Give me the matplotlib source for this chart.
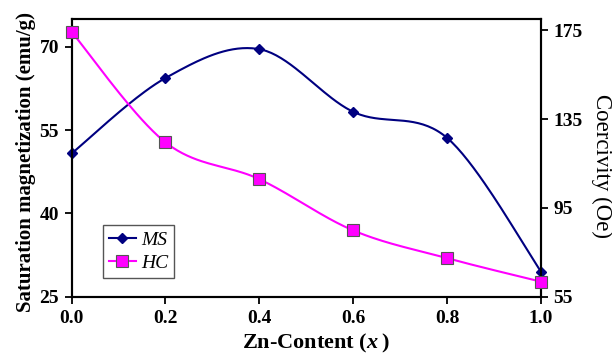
import numpy as np
import matplotlib
matplotlib.use("Agg")
import matplotlib.pyplot as plt
from matplotlib.lines import Line2D

x = [0.0, 0.2, 0.4, 0.6, 0.8, 1.0]
ms = [50.8, 64.4, 69.6, 58.3, 53.6, 29.5]
hc = [174.3, 124.5, 107.9, 84.8, 72.3, 61.7]
xticks = [0.0, 0.2, 0.4, 0.6, 0.8, 1.0]
left_ticks = [25, 40, 55, 70]
right_ticks = [55, 95, 135, 175]


def smooth(xs, ys, n=40):
    p = np.column_stack([xs, ys]).astype(float)
    pts = []
    for i in range(len(p) - 1):
        p0 = p[i - 1] if i > 0 else p[i]
        p1 = p[i]
        p2 = p[i + 1]
        p3 = p[i + 2] if i + 2 < len(p) else p[i + 1]
        c1 = p1 + (p2 - p0) / 6.0
        c2 = p2 - (p3 - p1) / 6.0
        t = np.linspace(0, 1, n)[:, None]
        seg = ((1 - t) ** 3) * p1 + 3 * ((1 - t) ** 2) * t * c1 + 3 * (1 - t) * t ** 2 * c2 + t ** 3 * p2
        pts.append(seg if i == 0 else seg[1:])
    a = np.vstack(pts)
    return a[:, 0], a[:, 1]


plt.rcParams['font.family'] = ['Liberation Serif', 'DejaVu Serif']
plt.rcParams['mathtext.fontset'] = 'custom'
plt.rcParams['mathtext.it'] = 'Liberation Serif:italic:bold'
plt.rcParams['mathtext.rm'] = 'Liberation Serif:bold'

fig = plt.figure(figsize=(6.12, 3.56), dpi=100)
ax = fig.add_axes([0.117, 0.167, 0.767, 0.779])
ax2 = ax.twinx()

sx, sy = smooth(x, ms)
ax.plot(sx, sy, color='#000080', lw=1.5, zorder=3)
ax.plot(x, ms, linestyle='none', marker='D', ms=5, color='#000080', zorder=4, clip_on=False)

hx, hy = smooth(x, hc)
ax2.plot(hx, hy, color='#FF00FF', lw=1.5, zorder=3)
ax2.plot(x, hc, linestyle='none', marker='s', ms=8, mfc='#FF00FF', mec='#555555', mew=0.8, zorder=4, clip_on=False)

ax.set_xlim(0, 1)
ax.set_ylim(25, 75)
ax2.set_ylim(55, 180)
ax.set_xticks(xticks)
ax.set_xticklabels([f"{v:.1f}" for v in xticks])
ax.set_yticks(left_ticks)
ax2.set_yticks(right_ticks)

for a in (ax, ax2):
    for s in a.spines.values():
        s.set_linewidth(1.5)
    a.tick_params(direction='out', length=5, width=1.3, labelsize=14, pad=4)
    a.tick_params(axis='x', pad=5)
    for lab in a.get_xticklabels() + a.get_yticklabels():
        lab.set_fontweight('bold')

ax.set_xlabel('Zn-Content ($x$\u2009)', fontsize=16, fontweight='bold', va='center')
ax.xaxis.set_label_coords(0.52, -0.168)
ax.set_ylabel('Saturation magnetization (emu/g)', fontsize=15, fontweight='bold', va='center')
ax.yaxis.set_label_coords(-0.097, 0.485)
ax2.set_ylabel('Coercivity (Oe)', fontsize=16.5, rotation=270, va='center')
ax2.yaxis.set_label_coords(1.13, 0.47)

handles = [
    Line2D([], [], color='#000080', lw=1.5, marker='D', ms=5),
    Line2D([], [], color='#FF00FF', lw=1.5, marker='s', ms=8, mfc='#FF00FF', mec='#555555', mew=0.8),
]
leg = ax.legend(handles, ['MS', 'HC'], loc='lower left', bbox_to_anchor=(0.067, 0.067),
                prop={'family': 'Liberation Serif', 'style': 'italic', 'size': 14},
                fancybox=False, edgecolor='#555555', framealpha=1, borderpad=0.3,
                handlelength=1.4, handletextpad=0.25, labelspacing=0.3, borderaxespad=0)
leg.get_frame().set_linewidth(1.0)
leg.set_zorder(10)

fig.savefig('out.png', dpi=100)
